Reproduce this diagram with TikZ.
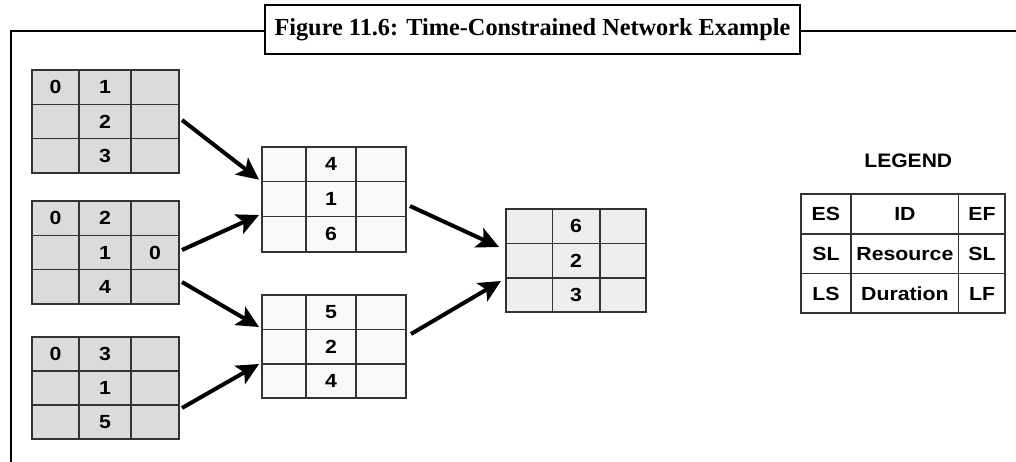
\documentclass[tikz,border=0pt]{standalone}
\usepackage{fontspec}
\setmainfont{Liberation Serif}
\newfontfamily\numfont{Liberation Sans}
\usetikzlibrary{arrows.meta,calc}

\definecolor{leftfill}{gray}{0.86}
\definecolor{midfill}{gray}{0.975}
\definecolor{rightfill}{gray}{0.935}
\definecolor{gridline}{gray}{0.2}

\tikzset{
 boxsty/.style={draw=gridline, line width=1.8pt, rectangle, inner sep=0pt, outer sep=0pt},
 gridsty/.style={draw=gridline, line width=1.5pt},
 celltxt/.style={font=\numfont\bfseries\fontsize{19}{19}\selectfont, inner sep=0pt, text=black},
 arr/.style={line width=4pt, -{Stealth[length=22pt,width=21pt,inset=5pt]}},
 framesty/.style={line width=2.6pt},
}

\newcommand\gridbox[8]{%
 \node[boxsty, fill=#8, minimum width={(#5-#2)*1pt}, minimum height={(#7-#6)*1pt}] (#1) at ({(#2+#5)/2},{(#6+#7)/2}) {};
 \draw[gridsty] (#3,#6) -- (#3,#7) (#4,#6) -- (#4,#7)
   (#2,{#6+(#7-#6)/3}) -- (#5,{#6+(#7-#6)/3})
   (#2,{#6+2*(#7-#6)/3}) -- (#5,{#6+2*(#7-#6)/3});
}
\newcommand\celltext[4]{\node[celltxt] (#1) at (#2,#3) {\scalebox{1.12}[1]{#4}};}

\newsavebox\ttlbox

\begin{document}
\sbox\ttlbox{\bfseries\fontsize{24.5}{27}\selectfont Figure 11.6: Time-Constrained Network Example}
\begin{tikzpicture}[x=1pt,y=-1pt]
\useasboundingbox (0,0) rectangle (1016,461);

% frame and title
\node[draw, line width=2.6pt, minimum width=535pt, minimum height=49pt, fill=white, inner sep=0pt] (title) at (532.5,29.5)
  {\scalebox{\fpeval{516pt/(\the\wd\ttlbox)}}[1]{\usebox\ttlbox}};
\coordinate (fbot) at (11,463);
\coordinate (fcorner) at (11,31);
\coordinate (fright) at (1018,31);
\draw[framesty] (fbot) -- (fcorner) -- (fcorner -| title.west);
\draw[framesty] (title.east |- fcorner) -- (fright);

% left boxes
\gridbox{b1}{32}{79}{131}{179}{70}{173}{leftfill}
\celltext{t1a}{55.5}{87.2}{0}
\celltext{t1b}{105}{87.2}{1}
\celltext{t1c}{105}{121.5}{2}
\celltext{t1d}{105}{155.8}{3}

\gridbox{b2}{32}{79}{131}{179}{201}{304}{leftfill}
\celltext{t2a}{55.5}{218.2}{0}
\celltext{t2b}{105}{218.2}{2}
\celltext{t2c}{105}{252.5}{1}
\celltext{t2d}{155}{252.5}{0}
\celltext{t2e}{105}{286.8}{4}

\gridbox{b3}{32}{79}{131}{179}{337}{439}{leftfill}
\celltext{t3a}{55.5}{354}{0}
\celltext{t3b}{105}{354}{3}
\celltext{t3c}{105}{388}{1}
\celltext{t3d}{105}{422}{5}

% middle boxes
\gridbox{b4}{262}{306}{356}{406}{146.7}{251.7}{midfill}
\celltext{t4a}{331}{164.2}{4}
\celltext{t4b}{331}{199.2}{1}
\celltext{t4c}{331}{234.2}{6}

\gridbox{b5}{262}{306}{356}{406}{295}{398.3}{midfill}
\celltext{t5a}{331}{312.2}{5}
\celltext{t5b}{331}{346.7}{2}
\celltext{t5c}{331}{381.1}{4}

% right box
\gridbox{b6}{505.7}{552.3}{600}{645.7}{209.3}{312}{rightfill}
\celltext{t6a}{576}{226.4}{6}
\celltext{t6b}{576}{260.7}{2}
\celltext{t6c}{576}{294.9}{3}

% legend
\node[celltxt, font=\numfont\bfseries\fontsize{19.5}{19.5}\selectfont] (legtitle) at (908.3,160.7) {\scalebox{1.08}[1]{LEGEND}};
\gridbox{lg}{800.7}{851}{958.7}{1005.3}{194}{313.3}{white}
\celltext{la}{825.9}{214.2}{ES}
\celltext{lb}{904.9}{214.2}{ID}
\celltext{lc}{982}{214.2}{EF}
\celltext{ld}{825.9}{254}{SL}
\celltext{le}{904.9}{254}{Resource}
\celltext{lf}{982}{254}{SL}
\celltext{lg1}{825.9}{293.7}{LS}
\celltext{lh}{904.9}{293.7}{Duration}
\celltext{li}{982}{293.7}{LF}

% arrows
\draw[arr] ($(b1.north east)+(3,50)$) -- ($(b4.north west)+(-3,33)$);
\draw[arr] ($(b2.north east)+(3,49)$) -- ($(b4.north west)+(-3,68.3)$);
\draw[arr] ($(b2.north east)+(3,81)$) -- ($(b5.north west)+(-3,32)$);
\draw[arr] ($(b3.north east)+(3,71)$) -- ($(b5.north west)+(-3,69)$);
\draw[arr] ($(b4.north east)+(4,59.3)$) -- ($(b6.north west)+(-6.7,37.7)$);
\draw[arr] ($(b5.north east)+(5,39)$) -- ($(b6.north west)+(-4.7,71.7)$);
\end{tikzpicture}
\end{document}
